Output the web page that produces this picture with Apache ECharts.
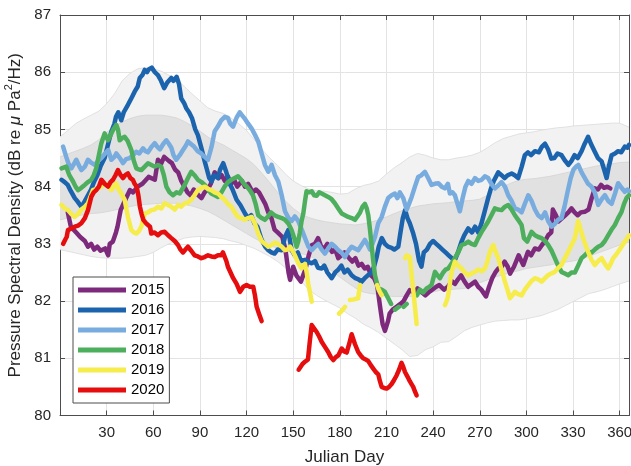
<!DOCTYPE html>
<html>
<head>
<meta charset="utf-8">
<script src="https://cdn.jsdelivr.net/npm/echarts@6/dist/echarts.min.js"></script>
<style>
  html, body { margin: 0; padding: 0; background: #ffffff; }
  #chart { width: 631px; height: 466px; }
</style>
</head>
<body>
<div id="chart"></div>
<script>
// Daily pressure spectral density by Julian day, one trace per year, over
// the long-term percentile envelopes (outer = light band, inner = darker band).

const FONT = "'Liberation Sans', Arial, Helvetica, sans-serif";

const years = ['2015', '2016', '2017', '2018', '2019', '2020'];
const yearColors = ['#7e2a7c', '#1b63ad', '#78acdf', '#4daf5d', '#f6ec4b', '#e50d0d'];

const xTicks = [30, 60, 90, 120, 150, 180, 210, 240, 270, 300, 330, 360];

// Envelope boundaries sampled on a common day grid
const bandDays = [0, 5, 10, 15, 20, 25, 30, 35, 40, 45, 50, 55, 60, 65, 70, 75, 80, 85, 90, 95,
  100, 105, 110, 115, 120, 125, 130, 135, 140, 145, 150, 155, 160, 165, 170, 175, 180, 185, 190, 195,
  200, 205, 210, 215, 220, 225, 230, 235, 240, 245, 250, 255, 260, 265, 270, 275, 280, 285, 290, 295,
  300, 305, 310, 315, 320, 325, 330, 335, 340, 345, 350, 355, 360, 366];

const outerHigh = [84.87, 84.98, 85.10, 85.18, 85.25, 85.32, 85.45, 85.62, 85.85, 85.98, 86.06, 86.08, 86.06, 86.02, 85.95, 85.87, 85.75, 85.62, 85.50, 85.38,
  85.32, 85.28, 85.20, 85.10, 84.98, 84.82, 84.65, 84.50, 84.37, 84.22, 84.10, 84.02, 83.96, 83.93, 83.92, 83.90, 83.87, 83.88, 83.96, 84.02,
  84.05, 84.10, 84.22, 84.33, 84.42, 84.52, 84.58, 84.55, 84.50, 84.47, 84.47, 84.50, 84.52, 84.55, 84.60, 84.68, 84.77, 84.84, 84.88, 84.92,
  84.94, 84.96, 84.99, 85.01, 85.03, 85.04, 85.06, 85.07, 85.08, 85.09, 85.10, 85.11, 85.11, 85.04];

const outerLow = [82.90, 82.87, 82.84, 82.81, 82.78, 82.76, 82.75, 82.75, 82.75, 82.76, 82.78, 82.80, 82.85, 82.93, 83.00, 83.05, 83.10, 83.12, 83.13, 83.12,
  83.11, 83.09, 83.05, 83.02, 82.97, 82.92, 82.85, 82.78, 82.69, 82.58, 82.47, 82.35, 82.20, 82.10, 82.02, 81.95, 81.88, 81.78, 81.70, 81.60,
  81.53, 81.45, 81.35, 81.25, 81.15, 81.03, 81.05, 81.15, 81.20, 81.28, 81.29, 81.38, 81.48, 81.54, 81.58, 81.62, 81.65, 81.66, 81.67, 81.67,
  81.69, 81.72, 81.75, 81.80, 81.85, 81.92, 81.99, 82.06, 82.13, 82.16, 82.20, 82.25, 82.30, 82.35];

const innerHigh = [84.52, 84.57, 84.62, 84.67, 84.73, 84.82, 84.95, 85.05, 85.13, 85.19, 85.23, 85.25, 85.25, 85.25, 85.23, 85.20, 85.14, 85.06, 84.97, 84.87,
  84.79, 84.73, 84.65, 84.57, 84.49, 84.38, 84.23, 84.07, 83.90, 83.75, 83.62, 83.52, 83.46, 83.42, 83.39, 83.37, 83.35, 83.34, 83.33, 83.35,
  83.38, 83.42, 83.47, 83.53, 83.58, 83.62, 83.66, 83.68, 83.70, 83.71, 83.72, 83.74, 83.75, 83.76, 83.78, 83.85, 83.93, 84.00, 84.06, 84.11,
  84.13, 84.14, 84.16, 84.18, 84.21, 84.24, 84.27, 84.30, 84.33, 84.36, 84.38, 84.40, 84.42, 84.43];

const innerLow = [83.42, 83.45, 83.48, 83.51, 83.53, 83.54, 83.56, 83.59, 83.62, 83.65, 83.68, 83.69, 83.70, 83.71, 83.71, 83.71, 83.69, 83.66, 83.62, 83.57,
  83.50, 83.42, 83.34, 83.26, 83.18, 83.10, 83.03, 82.97, 82.92, 82.88, 82.85, 82.83, 82.80, 82.72, 82.62, 82.52, 82.42, 82.32, 82.23, 82.16,
  82.13, 82.12, 82.09, 82.08, 82.08, 82.08, 82.10, 82.13, 82.16, 82.19, 82.20, 82.21, 82.22, 82.26, 82.32, 82.37, 82.42, 82.46, 82.50, 82.53,
  82.57, 82.59, 82.61, 82.63, 82.66, 82.68, 82.70, 82.73, 82.78, 82.83, 82.88, 82.93, 82.98, 83.03];

// [Julian day, dB]; null marks a gap in the record
const psd2015 = [[5,83.55],[7,83.3],[11,83.18],[13,83.12],[16,83.05],[18,82.95],[20,83.0],[22,82.9],[24,82.95],[26,82.88],[29,82.92],[31,82.8],[32,83.0],[34,83.04],[36,83.2],[37,83.3],[39,83.59],[42,83.77],[45,83.94],[47,83.9],[50,84.0],[53,84.05],[57,84.17],[61,84.12],[63,84.47],[65,84.4],[67,84.52],[70,84.45],[72,84.41],[74,84.3],[76,84.25],[78,84.1],[80,84.0],[82,83.9],[84,83.85],[86,83.95],[89,83.85],[91,83.8],[93,83.9],[95,83.95],[97,84.05],[99.5,84.25],[102,84.15],[104,84.2],[106,84.1],[108,84.18],[110,84.05],[112,84.12],[114,84.0],[117,84.1],[119,84.0],[121,84.05],[124,83.9],[126,83.95],[128,83.9],[130,83.8],[132,83.7],[134,83.55],[136,83.45],[138,83.25],[140,83.2],[143,83.12],[145,82.9],[147,82.5],[148,82.37],[150,82.6],[152,82.45],[155,82.34],[158,82.57],[160,82.8],[162,82.98],[164,83.0],[166,83.1],[168,82.95],[170,82.92],[172,83.0],[175,82.86],[177,82.9],[179,82.75],[181,82.8],[183,82.85],[186,82.75],[188,82.69],[190,82.75],[192,82.62],[194,82.65],[196,82.57],[198,82.6],[200,82.45],[202,82.4],[204,82.28],[206,81.88],[207.5,81.6],[209,81.48],[211,81.65],[212,81.78],[214,81.85],[216.5,81.9],[219,81.95],[221,82.0],[223,82.1],[225,82.19],[228,82.15],[230,82.22],[233,82.15],[235,82.1],[237,82.15],[239,82.19],[242,82.25],[244,82.28],[247,82.2],[249.5,82.25],[252,82.35],[254,82.3],[256,82.38],[258,82.45],[260,82.35],[262.5,82.25],[265,82.3],[267,82.34],[269,82.25],[271,82.2],[274,82.08],[276,82.25],[278,82.4],[280,82.5],[282,82.57],[284,82.6],[286,82.69],[288,82.6],[289.5,82.48],[292,82.6],[295,82.8],[298,82.63],[301,82.86],[303,82.8],[305.5,82.92],[308,82.9],[310,82.98],[312,83.05],[314,83.15],[316,83.2],[317,83.6],[319,83.5],[320.5,83.39],[323,83.45],[325,83.5],[327,83.55],[329,83.62],[331,83.55],[333,83.5],[335,83.55],[337.5,83.56],[340,83.6],[342,83.8],[344,83.97],[346,83.95],[348,84.03],[350,83.98],[352,84.0],[354,83.97]];

const psd2016 = [[1,84.12],[3,84.08],[5,84.03],[7,83.92],[9.5,83.8],[11,83.75],[13.7,83.65],[15,83.7],[18,83.85],[20,83.95],[22,84.09],[24,84.2],[26,84.35],[28.7,84.5],[31,84.75],[33,84.96],[35,85.1],[36,85.22],[37.5,85.3],[39.4,85.16],[41,85.3],[43.7,85.43],[46,85.55],[48,85.66],[50,85.75],[51.3,85.9],[53,85.95],[54.5,86.04],[56,86.0],[57,86.05],[59,86.08],[61,86.0],[63,85.95],[65,85.85],[67,85.72],[69,85.82],[71.6,85.9],[73,85.85],[75,85.92],[76.5,85.8],[78,85.54],[80,85.45],[81.2,85.37],[83,85.3],[85,85.19],[87,85.0],[88.7,84.9],[91,84.67],[93,84.45],[94.5,84.3],[96,84.15],[97.5,84.09],[99,84.2],[101.5,84.15],[103,84.3],[105,84.41],[107,84.25],[109,84.06],[111,83.95],[113.6,83.77],[116,83.68],[119,83.53],[121,83.45],[123,83.5],[125,83.36],[127,83.3],[129.7,83.07],[132,82.95],[134,82.89],[136,82.85],[138,82.83],[140,82.9],[142.6,82.89],[144.7,83.12],[146.8,83.24],[149,82.89],[151,82.8],[153,82.85],[155,82.7],[157.6,82.72],[160,82.68],[162,82.66],[164,82.7],[166,82.58],[168.3,82.57],[170,82.62],[172,82.5],[174.7,82.4],[177,82.5],[179,82.55],[181,82.62],[183,82.5],[185,82.55],[187.6,82.45],[190,82.4],[192,82.38],[194,82.34],[196,82.4],[198,82.45],[200.4,82.5],[202,82.6],[203.7,82.77],[205,82.95],[207,83.1],[209,83.0],[211,82.95],[213.3,82.93],[215,82.9],[217.6,82.95],[219,83.2],[220.5,83.45],[222,83.59],[223.5,83.45],[225,83.36],[227,83.2],[229,83.0],[231,82.7],[232.5,82.6],[234,82.85],[236,82.9],[238,83.0],[240,83.05],[242,83.0],[244,82.95],[246,82.9],[248,82.85],[250,82.8],[252,82.75],[254,82.72],[256,82.85],[258.3,83.04],[260,83.15],[262.6,83.27],[265,83.2],[267,83.3],[269,83.2],[271,83.35],[273,83.55],[275.4,83.8],[277,83.95],[279,84.1],[281.9,84.25],[284,84.2],[286,84.15],[288,84.2],[290.5,84.23],[292.5,84.2],[294.7,84.15],[297,84.35],[299,84.55],[301,84.6],[303,84.55],[305.5,84.62],[308,84.6],[310,84.7],[312,84.75],[314,84.65],[316,84.49],[318,84.5],[320,84.58],[322.6,84.55],[325,84.45],[327,84.38],[329,84.45],[331,84.55],[333,84.5],[335.5,84.62],[337.5,84.75],[339.7,84.87],[341.5,84.75],[344,84.61],[346,84.5],[348.4,84.44],[350,84.3],[351.6,84.15],[353,84.35],[354.8,84.55],[357,84.58],[359,84.62],[361,84.6],[363.3,84.7],[365,84.68],[366,84.73]];

const psd2017 = [[2,84.7],[4,84.52],[5.5,84.4],[7.3,84.32],[9,84.4],[10.5,84.47],[12,84.38],[13.7,84.29],[16,84.35],[18,84.47],[20,84.42],[22.3,84.38],[24.5,84.45],[26.6,84.5],[29,84.58],[31,84.64],[33,84.47],[35,84.52],[36.2,84.58],[38.5,84.5],[40.5,84.41],[42.5,84.48],[44.8,84.5],[47,84.55],[49,84.61],[51,84.58],[53.4,84.67],[55,84.62],[56.6,84.6],[59,84.7],[60.9,84.76],[62.5,84.7],[64.3,84.65],[66.5,84.75],[68.4,84.81],[70,84.75],[71.6,84.68],[73,84.55],[74.8,84.47],[77,84.55],[79.1,84.64],[81,84.72],[82.3,84.79],[84,84.75],[86.2,84.7],[88.5,84.62],[90.9,84.58],[93,84.52],[95.2,84.47],[97.5,84.7],[99.5,84.97],[101.5,85.05],[103.7,85.16],[106,85.22],[108,85.2],[109.5,85.1],[111.3,85.05],[113.5,85.2],[115.6,85.3],[117,85.25],[118.8,85.19],[121,85.1],[123.2,85.02],[125.5,84.9],[127.5,84.79],[129.5,84.6],[131.8,84.38],[134,84.26],[136.1,84.38],[138.3,84.2],[140.4,84.09],[142.6,83.85],[144.7,83.57],[147,83.45],[149,83.4],[151,83.48],[153.2,83.4],[155.5,83.25],[157.6,83.1],[159.8,82.95],[161.9,82.89],[164,82.95],[166.1,83.0],[168.3,82.9],[170.4,82.83],[172.5,82.92],[174.7,83.0],[177,82.95],[179,82.89],[181,82.85],[183.3,82.77],[185.5,82.88],[187.6,82.95],[189.7,82.92],[191.8,82.89],[194,82.98],[196.1,83.07],[198,82.98],[199.4,82.9],[201,83.0],[202.6,83.12],[204.7,83.36],[206.9,83.47],[209,83.65],[211.1,83.8],[213.3,83.85],[215.4,83.88],[217,83.8],[218.6,83.9],[220.8,83.8],[223,83.6],[224.5,83.7],[226.2,83.82],[228.3,84.0],[230.4,84.17],[232.5,84.2],[234.7,84.26],[236.8,84.15],[239,84.03],[241,84.05],[243.3,84.06],[245.5,84.0],[247.6,83.97],[249.5,84.05],[250.8,83.88],[252.5,83.9],[254,83.85],[255.7,83.7],[257.2,83.57],[259,83.8],[260.8,84.0],[262.6,84.1],[264.7,84.05],[266.9,84.15],[269,84.1],[271.2,84.12],[273.3,84.18],[275.4,84.15],[277.5,84.05],[279.7,83.97],[281.9,84.02],[284,84.08],[286.2,84.0],[288.3,83.85],[290.5,83.75],[292.6,83.62],[294.7,83.6],[296.9,83.55],[299,83.7],[301.2,83.85],[303.3,83.75],[305.5,83.6],[307.5,83.5],[309.8,83.45],[312,83.55],[314,83.4],[316.2,83.3],[318.3,83.35],[320.4,83.42],[322.6,83.45],[324.5,83.65],[326.4,83.9],[328.5,84.15],[330.3,84.3],[332,84.35],[333.4,84.38],[335.5,84.25],[337.6,84.15],[339.7,84.05],[341.9,84.0],[344,83.9],[346.2,83.68],[348.4,83.78],[350.5,83.85],[352.6,83.75],[354.8,83.7],[357,83.88],[359,84.06],[361.2,83.98],[363.3,83.91],[365,83.95],[366,83.92]];

const psd2018 = [[1,84.32],[4,84.35],[6,84.2],[8.4,84.09],[10,84.0],[11.6,83.94],[13.7,83.98],[15.9,84.03],[18,84.08],[20.1,84.12],[21.7,84.2],[23.3,84.32],[25,84.55],[26.6,84.76],[28.7,84.93],[30.9,84.81],[32.5,84.9],[34.1,84.99],[36.2,85.08],[37.3,85.0],[38.4,84.81],[40,84.85],[41.6,84.87],[43.5,84.8],[45.9,84.64],[47.5,84.45],[49.1,84.32],[50.8,84.3],[52.3,84.29],[54.5,84.35],[56.6,84.41],[58.8,84.38],[60.9,84.35],[63,84.38],[65.1,84.35],[66.8,84.2],[68.4,84.0],[70.5,83.9],[72.7,83.85],[75,83.9],[77,83.88],[78.5,83.95],[80.2,84.03],[82.3,84.15],[84.4,84.26],[86.5,84.2],[88.7,84.12],[91,84.08],[93.1,84.03],[95.2,83.95],[97.3,83.88],[99.5,83.85],[101.6,83.82],[103.8,83.9],[105.9,84.0],[108,84.08],[110.2,84.12],[112.4,84.15],[114.5,84.18],[116.5,84.12],[118.3,84.05],[120.2,84.0],[122,83.94],[124.1,83.85],[125.8,83.7],[127.5,83.5],[129.7,83.45],[131.8,83.42],[133.8,83.48],[135.7,83.55],[138,83.5],[140.4,83.47],[142.6,83.45],[144.7,83.42],[147,83.35],[149,83.24],[150.7,83.1],[152.2,82.95],[153.3,83.05],[154.3,83.2],[155.4,83.4],[156.5,83.53],[157.6,83.75],[158.6,83.92],[160.2,83.9],[161.9,83.92],[163.5,83.85],[165.1,83.84],[166.7,83.9],[168.3,83.88],[170.4,83.85],[172.5,83.82],[174.7,83.78],[176.8,83.71],[179,83.62],[181.2,83.53],[183.3,83.5],[185.4,83.47],[187.6,83.45],[189.7,83.42],[191.3,83.48],[193,83.55],[194.6,83.65],[196.1,83.7],[197.3,83.62],[198.3,83.5],[199.4,83.25],[200.4,82.98],[201.5,82.7],[202.6,82.45],[204.7,82.22],[206.9,82.2],[209,82.16],[211.1,82.05],[213,81.95],null,[215.5,81.85],[218,81.9],null,[221,81.9],[223,81.95],null,[229.5,82.1],[231.5,82.2],[233.6,82.15],[235.8,82.22],[237.5,82.25],[239,82.28],[241.2,82.51],[242.8,82.45],[244.4,82.4],[246.5,82.5],[248,82.55],[249.7,82.57],[251.8,82.65],[254,82.75],[256.1,82.85],[258.3,82.98],[260.4,83.0],[262.6,83.04],[264.7,83.0],[266.9,82.98],[269,83.1],[271.2,83.21],[273.3,83.3],[275.4,83.39],[277.5,83.5],[279.7,83.62],[281.8,83.6],[284,83.59],[286.2,83.65],[288.3,83.68],[290.5,83.6],[292.6,83.5],[294.7,83.42],[296.9,83.33],[298.4,83.1],[300.5,83.04],[303.3,83.21],[305.5,83.15],[307.6,83.12],[309.8,83.1],[312,83.05],[314,82.98],[316.2,82.88],[318.3,82.75],[320.4,82.62],[322.6,82.51],[324.7,82.48],[326.9,82.45],[329,82.5],[331.2,82.5],[333.3,82.62],[335.5,82.75],[337.6,82.8],[339.7,82.86],[341.9,82.85],[344,82.9],[346.2,82.95],[348.4,82.98],[350.5,83.05],[352.6,83.15],[354.8,83.25],[356.9,83.33],[359,83.45],[361.2,83.56],[362.8,83.7],[364.4,83.8],[366,83.85]];

const psd2019 = [[1,83.68],[3,83.62],[5.1,83.59],[7.3,83.52],[9.5,83.47],[11.5,83.52],[13.7,83.6],[16,83.65],[18,83.71],[19.5,83.82],[21.2,83.94],[23,83.95],[24.4,83.97],[26.5,84.0],[28.7,84.06],[31,84.0],[33,83.94],[34.6,84.0],[36.2,84.06],[37.8,83.95],[39.4,83.88],[41.6,83.77],[43.7,83.47],[45.9,83.24],[47.5,83.2],[49.1,83.18],[50.7,83.22],[52.3,83.3],[54.5,83.53],[56.6,83.55],[58.7,83.59],[60.8,83.6],[63,83.65],[65.1,83.62],[67.3,83.71],[69.5,83.68],[71.6,83.65],[73.8,83.6],[75.9,83.68],[78,83.65],[80.2,83.71],[82.3,83.72],[84.4,83.77],[86.5,83.85],[88.7,83.94],[91,83.98],[93.1,84.0],[95.2,83.96],[97.3,83.94],[99.5,83.9],[101.6,83.88],[103.8,83.82],[105.9,83.77],[108,83.7],[110.2,83.65],[112.4,83.55],[114.5,83.47],[116.6,83.45],[118.8,83.42],[121,83.45],[123.3,83.47],[125.4,83.35],[127.5,83.18],[129.7,83.05],[131.8,83.0],[134,82.95],[136.1,82.98],[138.3,83.02],[140.4,83.0],[142.6,82.95],[144.7,82.89],[146.4,82.9],[148,82.95],[149.5,82.88],[151.1,82.8],[153.3,82.66],[155.4,82.57],[157.6,82.65],[158.7,82.5],[159.7,82.3],[160.8,82.15],[161.9,81.99],null,[179.5,81.78],[181,81.82],[183.3,81.9],null,[186.5,82.02],[189,82.03],[191.8,82.05],[192.5,82.2],[193,82.28],null,[204,82.28],[205,82.2],[206.9,82.1],null,[222,82.75],[223,82.8],[225,82.77],[226,82.5],[227,82.25],[228.3,81.9],[229.4,81.6],null,[247.6,81.93],[248.7,82.0],[249.7,82.1],[251,82.35],[251.9,82.51],[254,82.69],[256.1,82.62],[258.3,82.57],[260.4,82.5],[262.6,82.45],[264.7,82.48],[266.9,82.51],[269,82.55],[271.2,82.52],[273.3,82.57],[275,82.7],[276.5,82.86],[278.7,82.98],[280.3,82.85],[281.9,82.75],[284,82.55],[286.2,82.34],[287.8,82.2],[289.4,82.05],[291,82.1],[292.6,82.16],[294.7,82.12],[296.9,82.1],[299,82.2],[301.2,82.28],[303.3,82.35],[305.5,82.4],[307.6,82.38],[309.8,82.34],[312,82.4],[313.8,82.45],[316,82.48],[318.3,82.51],[320.4,82.58],[322.6,82.63],[324.7,82.75],[326.9,82.86],[329,82.98],[331.2,83.1],[332.2,83.25],[333.3,83.4],[334.9,83.25],[336.5,83.1],[338,82.98],[339.7,82.86],[341.9,82.72],[344,82.63],[346.2,82.7],[348.4,82.75],[350.5,82.65],[352.6,82.57],[354.2,82.65],[355.8,82.75],[357.4,82.8],[359,82.86],[361.2,82.95],[363.3,83.04],[365,83.1],[366,83.15]];

const psd2020 = [[2,83.0],[3.5,83.08],[4.3,83.12],[5.1,83.24],[7.3,83.27],[9.5,83.3],[11.6,83.32],[13.7,83.36],[16,83.45],[18,83.59],[20.1,83.82],[21.7,83.9],[23.3,83.94],[25,84.0],[26.6,84.12],[28.7,84.05],[30.9,84.0],[32.5,84.08],[34.1,84.12],[35.7,84.2],[37.3,84.29],[39,84.2],[40.5,84.15],[42,84.2],[43.7,84.23],[45.3,84.15],[46.9,84.12],[48,84.05],[49.3,84.0],[50.4,83.85],[51.4,83.65],[52.5,83.52],[53.6,83.42],[55.7,83.35],[57.9,83.3],[58.7,83.18],[60.8,83.2],[63,83.15],[65.1,83.2],[67.3,83.21],[69.5,83.15],[71.6,83.1],[73.8,83.05],[75.9,82.98],[77.5,82.9],[79.1,82.85],[80.7,82.9],[82.3,82.95],[84.4,82.88],[86.6,82.8],[88.7,82.78],[90.9,82.75],[93,82.77],[95.2,82.8],[97.3,82.78],[99.5,82.77],[101.6,82.8],[103.7,82.8],[104.8,82.85],[105.9,82.88],[107,82.7],[108,82.6],[109.7,82.5],[111.4,82.4],[113.6,82.3],[115.8,82.16],[117.9,82.25],[120,82.28],[122.1,82.25],[124.3,82.25],[125.4,82.1],[126.5,81.9],[128,81.78],[129.7,81.65],null,[153.5,80.8],[154.3,80.82],[156,80.9],[157.6,80.94],[159.5,80.98],[160.7,81.3],[161.9,81.58],[163.5,81.52],[165.1,81.46],[166.7,81.38],[168.3,81.29],[170.4,81.2],[172.5,81.11],[174.2,81.02],[175.8,80.97],[177.4,81.02],[179,81.05],[181.2,81.17],[182.8,81.12],[184.4,81.1],[186,81.25],[187.6,81.42],[189.7,81.25],[191.8,81.11],[193.4,81.05],[195,81.0],[196.6,80.98],[198.3,80.95],[199.9,80.88],[201.5,80.82],[203.1,80.76],[204.7,80.72],[205.8,80.6],[206.9,80.5],[208.5,80.48],[210.1,80.47],[211.7,80.5],[213.3,80.55],[214.9,80.62],[216.5,80.7],[218.1,80.8],[219.7,80.92],[220.8,80.85],[221.9,80.76],[223.5,80.68],[225,80.6],[226.1,80.55],[227.2,80.5],[228.3,80.42],[229.4,80.35]];

const yearData = [psd2015, psd2016, psd2017, psd2018, psd2019, psd2020];

// Filled envelope between two boundary curves, drawn once as a polygon in data coordinates.
function envelope(lo, hi, fill, edge) {
  return {
    type: 'custom',
    coordinateSystem: 'cartesian2d',
    silent: true,
    data: bandDays.map((d, i) => [d, lo[i], hi[i]]),
    encode: { x: 0, y: [1, 2] },
    renderItem: function (params, api) {
      if (params.dataIndex !== 0) return null;
      const upper = bandDays.map((d, i) => api.coord([d, hi[i]]));
      const lower = bandDays.map((d, i) => api.coord([d, lo[i]]));
      return {
        type: 'group',
        children: [
          { type: 'polygon', shape: { points: upper.concat(lower.slice().reverse()) }, style: { fill: fill } },
          { type: 'polyline', shape: { points: upper }, style: { fill: null, stroke: edge, lineWidth: 0.8 } },
          { type: 'polyline', shape: { points: lower }, style: { fill: null, stroke: edge, lineWidth: 0.8 } }
        ]
      };
    }
  };
}

const lineSeries = years.map((name, k) => ({
  name: name,
  type: 'line',
  color: yearColors[k],
  data: yearData[k].map(p => (p === null ? ['-', '-'] : p)),
  showSymbol: false,
  symbol: 'none',
  connectNulls: false,
  lineStyle: { width: 4.5, color: yearColors[k], join: 'round', cap: 'round' },
  emphasis: { disabled: true },
  z: 3
}));

const AXIS_COLOR = '#4d4d4d';
const TEXT_COLOR = '#262626';

const chart = echarts.init(document.getElementById('chart'), null, { renderer: 'canvas' });

chart.setOption({
  animation: false,
  backgroundColor: '#ffffff',
  textStyle: { fontFamily: FONT },
  grid: { left: 60, right: 2, top: 15, bottom: 50.5, containLabel: false, outerBoundsMode: 'none' },
  legend: {
    data: years,
    orient: 'vertical',
    left: 73,
    top: 277,
    icon: 'rect',
    itemWidth: 48,
    itemHeight: 5,
    itemGap: 0,
    padding: [3, 5, 3, 5],
    backgroundColor: '#ffffff',
    borderColor: '#4d4d4d',
    borderWidth: 1,
    borderRadius: 0,
    selectedMode: false,
    textStyle: { fontFamily: FONT, fontSize: 15, color: '#000000', lineHeight: 20 }
  },
  xAxis: [
    {
      type: 'value',
      position: 'bottom',
      min: 0,
      max: 366,
      interval: 30,
      name: 'Julian Day',
      nameLocation: 'middle',
      nameGap: 33,
      nameTextStyle: { fontFamily: FONT, fontSize: 17, color: TEXT_COLOR },
      axisLine: { show: true, onZero: false, lineStyle: { color: AXIS_COLOR, width: 1 } },
      axisTick: { show: true, inside: true, length: 5, lineStyle: { color: AXIS_COLOR } },
      axisLabel: {
        fontFamily: FONT, fontSize: 15, color: TEXT_COLOR, margin: 10,
        formatter: v => (xTicks.indexOf(v) >= 0 ? String(v) : '')
      },
      splitLine: { show: true, lineStyle: { color: '#e3e3e3', width: 1 } }
    },
    {
      type: 'value',
      position: 'top',
      min: 0,
      max: 366,
      interval: 30,
      axisLine: { show: true, onZero: false, lineStyle: { color: AXIS_COLOR, width: 1 } },
      axisTick: { show: true, inside: true, length: 5, lineStyle: { color: AXIS_COLOR } },
      axisLabel: { show: false },
      splitLine: { show: false }
    }
  ],
  yAxis: [
    {
      type: 'value',
      position: 'left',
      min: 80,
      max: 87,
      interval: 1,
      name: '{t|Pressure Spectral Density (dB re }{m|μ}{t| Pa}{s|2}{t|/Hz)}',
      nameLocation: 'middle',
      nameGap: 31,
      nameRotate: 90,
      nameTextStyle: {
        fontFamily: FONT, fontSize: 17, color: TEXT_COLOR,
        rich: {
          t: { fontFamily: FONT, fontSize: 17, color: TEXT_COLOR, lineHeight: 22 },
          m: { fontFamily: FONT, fontSize: 17, color: TEXT_COLOR, fontStyle: 'italic', lineHeight: 22 },
          s: { fontFamily: FONT, fontSize: 11, color: TEXT_COLOR, verticalAlign: 'top', lineHeight: 22 }
        }
      },
      axisLine: { show: true, onZero: false, lineStyle: { color: AXIS_COLOR, width: 1 } },
      axisTick: { show: true, inside: true, length: 5, lineStyle: { color: AXIS_COLOR } },
      axisLabel: { fontFamily: FONT, fontSize: 15, color: TEXT_COLOR, margin: 9 },
      splitLine: { show: true, lineStyle: { color: '#e3e3e3', width: 1 } }
    },
    {
      type: 'value',
      position: 'right',
      min: 80,
      max: 87,
      interval: 1,
      axisLine: { show: true, onZero: false, lineStyle: { color: AXIS_COLOR, width: 1 } },
      axisTick: { show: true, inside: true, length: 5, lineStyle: { color: AXIS_COLOR } },
      axisLabel: { show: false },
      splitLine: { show: false }
    }
  ],
  series: [
    envelope(outerLow, outerHigh, '#f2f2f2', '#dadada'),
    envelope(innerLow, innerHigh, '#e1e1e1', '#d3d3d3')
  ].concat(lineSeries)
});
</script>
</body>
</html>
